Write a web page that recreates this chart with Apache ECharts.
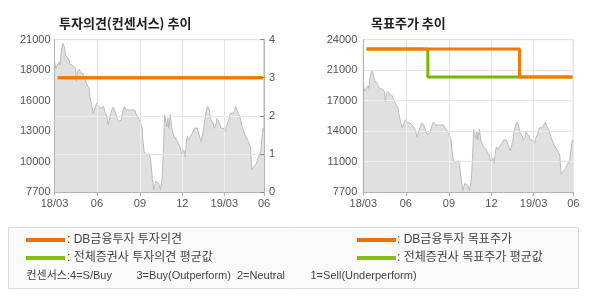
<!DOCTYPE html>
<html>
<head>
<meta charset="utf-8">
<script src="https://cdn.jsdelivr.net/npm/echarts@6/dist/echarts.min.js"></script>
<style>
html,body{margin:0;padding:0;background:#fff;}
#chart{width:590px;height:300px;}
</style>
</head>
<body>
<div id="chart"></div>
<script>
// ---- data ----
const priceDates = [
'2018-03-02','2018-03-05','2018-03-08','2018-03-12','2018-03-14','2018-03-16','2018-03-20','2018-03-22','2018-03-23','2018-03-26',
'2018-03-28','2018-04-02','2018-04-04','2018-04-09','2018-04-11','2018-04-16','2018-04-18','2018-04-20','2018-04-24','2018-04-27',
'2018-05-02','2018-05-04','2018-05-08','2018-05-11','2018-05-15','2018-05-17','2018-05-21','2018-05-24','2018-05-28','2018-05-29',
'2018-05-31','2018-06-04','2018-06-05','2018-06-08','2018-06-12','2018-06-15','2018-06-19','2018-06-22','2018-06-25','2018-06-27',
'2018-06-29','2018-07-03','2018-07-05','2018-07-09','2018-07-11','2018-07-13','2018-07-17','2018-07-20','2018-07-23','2018-07-26',
'2018-07-30','2018-08-01','2018-08-03','2018-08-06','2018-08-09','2018-08-13','2018-08-16','2018-08-17','2018-08-21','2018-08-23',
'2018-08-27','2018-08-29','2018-08-31','2018-09-03','2018-09-06','2018-09-07','2018-09-10','2018-09-13','2018-09-14','2018-09-18',
'2018-09-21','2018-09-24','2018-09-26','2018-09-28','2018-10-01','2018-10-03','2018-10-05','2018-10-08','2018-10-11','2018-10-15',
'2018-10-17','2018-10-19','2018-10-22','2018-10-24','2018-10-26','2018-10-29','2018-10-31','2018-11-02','2018-11-05','2018-11-08',
'2018-11-12','2018-11-14','2018-11-16','2018-11-19','2018-11-22','2018-11-26','2018-11-28','2018-11-30','2018-12-04','2018-12-07',
'2018-12-10','2018-12-12','2018-12-14','2018-12-18','2018-12-21','2018-12-24','2018-12-27','2018-12-28','2019-01-02','2019-01-04',
'2019-01-07','2019-01-10','2019-01-14','2019-01-16','2019-01-18','2019-01-21','2019-01-24','2019-01-28','2019-01-30','2019-02-01',
'2019-02-05','2019-02-07','2019-02-11','2019-02-13','2019-02-15','2019-02-19','2019-02-22','2019-02-25','2019-02-27','2019-03-04',
'2019-03-05','2019-03-08','2019-03-11','2019-03-14','2019-03-17','2019-03-20','2019-03-23','2019-03-26','2019-03-28','2019-03-31',
'2019-04-03','2019-04-06','2019-04-08','2019-04-11','2019-04-14','2019-04-17','2019-04-20','2019-04-23','2019-04-26','2019-04-29',
'2019-05-01','2019-05-03','2019-05-06','2019-05-09','2019-05-12','2019-05-15','2019-05-18','2019-05-20','2019-05-23','2019-05-25'
];
const prices = [
19070,18490,18780,19070,18780,19800,20670,20730,20380,19650,
19510,19220,18840,18780,18640,18490,17330,18200,18430,18110,
18060,17770,17620,17040,16750,16020,15150,14570,14710,15150,
15440,15150,15000,15200,15000,15200,14570,14270,13550,13630,
14270,14860,15090,14860,14710,14270,13840,13690,13980,14710,
15150,15000,14860,15000,14860,14710,14860,14710,14860,14570,
14330,14420,13980,13840,13260,12380,11220,11070,10930,10780,
11020,10550,9620,8750,7870,8310,8600,8600,8460,7870,
7870,9040,11950,14420,13980,13400,14120,13260,14420,13400,
12670,12530,12670,12240,11950,11660,11220,10930,11370,10780,
12240,12530,12240,12530,12380,12970,13260,13110,13260,12970,
12820,12090,12820,13260,13980,14710,15150,14860,14120,13980,
13690,13260,13550,14120,14270,13690,13260,13400,13260,12970,
13400,13690,14120,14570,14710,14570,14860,15150,14860,14570,
14270,13840,13400,13110,12670,12530,12240,11950,11660,9620,
9770,9910,9910,10200,10640,10930,11220,12240,13260,12970
];
const opinionDates = ['2018-03-09','2019-05-23'];
const opinionDB = [3, 3];
const opinionAvg = [3, 3];
const targetDBDates = ['2018-03-09','2019-01-30','2019-05-23'];
const targetDB = [23000, 20000, 20000];
const targetAvgDates = ['2018-03-09','2018-07-18','2019-05-23'];
const targetAvg = [23000, 20000, 20000];

const xTickDates = ['2018-03-02','2018-06-01','2018-09-01','2018-12-01','2019-03-01','2019-05-25'];
const xTickLabels = ['18/03','06','09','12','19/03','06'];
const priceTickValues1 = [7700, 10360, 13020, 15680, 18340, 21000];
const priceTickLabels1 = ['7700','10000','13000','16000','18000','21000'];
const opinionTicks = [0, 1, 2, 3, 4];
const priceTickValues2 = [7700, 10960, 14220, 17480, 20740, 24000];
const priceTickLabels2 = ['7700','11000','14000','17000','21000','24000'];

const titles = ['투자의견(컨센서스) 추이', '목표주가 추이'];
const legendLeft = [': DB금융투자 투자의견', ': 전체증권사 투자의견 평균값'];
const legendRight = [': DB금융투자 목표주가', ': 전체증권사 목표주가 평균값'];
const consensusNote = ['컨센서스:4=S/Buy', '3=Buy(Outperform)', '2=Neutral', '1=Sell(Underperform)'];

// ---- helpers ----
function t(s){ const p = s.split('-').map(Number); return Date.UTC(p[0], p[1]-1, p[2]); }
function zip(ds, vs){ return ds.map((d,i)=>[t(d), vs[i]]); }
const xTickTimes = xTickDates.map(t);
const xMin = xTickTimes[0], xMax = xTickTimes[xTickTimes.length-1];

const ORANGE = '#ff7700', GREEN = '#77b800';
const AXIS = '#b4b4b4', LABEL = '#555';
const GRID_OVER = 'rgba(255,255,255,0.45)';   // gridline drawn over the grey area
const GRID_UNDER = '#cfcfcf';                  // gridline drawn beneath the area
const NONE = 'rgba(0,0,0,0)';
const NUMFONT = '"Liberation Sans", Arial, sans-serif';
const KFONT = '"Noto Sans CJK KR", sans-serif';
const MIXFONT = '"Liberation Sans", "Noto Sans CJK KR", sans-serif';

function labelFromList(vals, labels){
  return function(v){
    let best = 0, bd = Infinity;
    vals.forEach((tt,i)=>{ const d = Math.abs(tt - v); if (d < bd){ bd = d; best = i; } });
    return labels[best];
  };
}
function xAxisDef(gridIndex){
  return {
    type: 'value', gridIndex, min: xMin, max: xMax, scale: true, z: 3,
    axisLine: {show: true, lineStyle: {color: AXIS}},
    axisTick: {show: true, length: 4, lineStyle: {color: AXIS}, customValues: xTickTimes},
    axisLabel: {
      customValues: xTickTimes, color: LABEL, fontSize: 11, fontFamily: NUMFONT, margin: 6,
      showMinLabel: true, showMaxLabel: true, hideOverlap: false,
      formatter: labelFromList(xTickTimes, xTickLabels)
    },
    splitLine: {show: true, lineStyle: {color: GRID_OVER}}
  };
}
function xAxisUnder(gridIndex){
  return {
    type: 'value', gridIndex, min: xMin, max: xMax, scale: true, z: 0,
    axisLine: {show: false},
    axisTick: {show: true, lineStyle: {color: NONE}, customValues: xTickTimes},
    axisLabel: {customValues: xTickTimes, color: NONE, formatter: () => ''},
    splitLine: {show: true, lineStyle: {color: GRID_UNDER}}
  };
}

const priceArea = {
  type: 'line', symbol: 'none', silent: true,
  lineStyle: {color: '#bbbbbb', width: 1},
  areaStyle: {color: '#e0e0e0', opacity: 1, origin: 'start'},
  z: 1
};

const titleStyle = {fontSize: 13, fontWeight: 'bold', color: '#222', fontFamily: KFONT};

const option = {
  animation: false,
  backgroundColor: '#fff',
  title: [
    {text: titles[0], left: 54, top: 12, textStyle: titleStyle},
    {text: titles[1], left: 366, top: 12, textStyle: titleStyle}
  ],
  grid: [
    {left: 54.5, top: 39.6, width: 209.5, height: 152.4, show: true, borderColor: AXIS, borderWidth: 1, backgroundColor: 'transparent'},
    {left: 363.3, top: 39.6, width: 210, height: 152.4, show: true, borderColor: AXIS, borderWidth: 1, backgroundColor: 'transparent'}
  ],
  xAxis: [xAxisDef(0), xAxisDef(1), xAxisUnder(0), xAxisUnder(1)],
  yAxis: [
    {
      type: 'value', gridIndex: 0, position: 'left', min: priceTickValues1[0], max: priceTickValues1[5], z: 3,
      axisLine: {show: true, lineStyle: {color: AXIS}},
      axisTick: {show: false, customValues: priceTickValues1},
      axisLabel: {customValues: priceTickValues1, color: LABEL, fontSize: 11, fontFamily: NUMFONT, margin: 4,
        formatter: labelFromList(priceTickValues1, priceTickLabels1)},
      splitLine: {show: false}
    },
    {
      type: 'value', gridIndex: 0, position: 'right', min: opinionTicks[0], max: opinionTicks[4], interval: 1, z: 3,
      axisLine: {show: true, lineStyle: {color: AXIS}},
      axisTick: {show: true, inside: true, length: 4, lineStyle: {color: '#888'}},
      axisLabel: {color: LABEL, fontSize: 11, fontFamily: NUMFONT, margin: 5},
      splitLine: {show: true, lineStyle: {color: GRID_OVER}}
    },
    {
      type: 'value', gridIndex: 1, position: 'left', min: priceTickValues2[0], max: priceTickValues2[5], z: 3,
      axisLine: {show: true, lineStyle: {color: AXIS}},
      axisTick: {show: false, customValues: priceTickValues2},
      axisLabel: {customValues: priceTickValues2, color: LABEL, fontSize: 11, fontFamily: NUMFONT, margin: 6,
        formatter: labelFromList(priceTickValues2, priceTickLabels2)},
      splitLine: {show: true, lineStyle: {color: GRID_OVER}}
    },
    {
      type: 'value', gridIndex: 0, position: 'right', min: opinionTicks[0], max: opinionTicks[4], interval: 1, z: 0,
      axisLine: {show: false}, axisTick: {show: false}, axisLabel: {show: false},
      splitLine: {show: true, lineStyle: {color: GRID_UNDER}}
    },
    {
      type: 'value', gridIndex: 1, position: 'left', min: priceTickValues2[0], max: priceTickValues2[5], z: 0,
      axisLine: {show: false},
      axisTick: {show: true, lineStyle: {color: NONE}, customValues: priceTickValues2},
      axisLabel: {customValues: priceTickValues2, color: NONE, formatter: () => ''},
      splitLine: {show: true, lineStyle: {color: GRID_UNDER}}
    }
  ],
  series: [
    Object.assign({}, priceArea, {xAxisIndex: 0, yAxisIndex: 0, data: zip(priceDates, prices)}),
    {type: 'line', xAxisIndex: 0, yAxisIndex: 1, symbol: 'none', silent: true, z: 6,
      lineStyle: {color: GREEN, width: 3}, data: zip(opinionDates, opinionAvg)},
    {type: 'line', xAxisIndex: 0, yAxisIndex: 1, symbol: 'none', silent: true, z: 7,
      lineStyle: {color: ORANGE, width: 3}, data: zip(opinionDates, opinionDB)},
    Object.assign({}, priceArea, {xAxisIndex: 1, yAxisIndex: 2, data: zip(priceDates, prices)}),
    {type: 'line', xAxisIndex: 1, yAxisIndex: 2, symbol: 'none', silent: true, step: 'end', z: 6,
      lineStyle: {color: GREEN, width: 3}, data: zip(targetAvgDates, targetAvg)},
    {type: 'line', xAxisIndex: 1, yAxisIndex: 2, symbol: 'none', silent: true, step: 'end', z: 7,
      lineStyle: {color: ORANGE, width: 3}, data: zip(targetDBDates, targetDB)}
  ],
  graphic: [
    {type: 'rect', shape: {x: 8.5, y: 227.5, width: 570, height: 61}, style: {fill: '#fafafa', stroke: '#dddddd', lineWidth: 1}, z: 0},
    {type: 'line', shape: {x1: 26, y1: 240, x2: 65, y2: 240}, style: {stroke: '#ec7010', lineWidth: 4}},
    {type: 'line', shape: {x1: 26, y1: 258, x2: 65, y2: 258}, style: {stroke: '#84c010', lineWidth: 4}},
    {type: 'line', shape: {x1: 357, y1: 240, x2: 396, y2: 240}, style: {stroke: '#ec7010', lineWidth: 4}},
    {type: 'line', shape: {x1: 357, y1: 258, x2: 396, y2: 258}, style: {stroke: '#84c010', lineWidth: 4}},
    {type: 'text', x: 67, y: 240, style: {text: legendLeft[0], fill: '#444', font: '12px ' + MIXFONT, textVerticalAlign: 'middle'}},
    {type: 'text', x: 67, y: 258, style: {text: legendLeft[1], fill: '#444', font: '12px ' + MIXFONT, textVerticalAlign: 'middle'}},
    {type: 'text', x: 397, y: 240, style: {text: legendRight[0], fill: '#444', font: '12px ' + MIXFONT, textVerticalAlign: 'middle'}},
    {type: 'text', x: 397, y: 258, style: {text: legendRight[1], fill: '#444', font: '12px ' + MIXFONT, textVerticalAlign: 'middle'}},
    {type: 'text', x: 26.5, y: 276, style: {text: consensusNote[0], fill: '#444', font: '11px ' + MIXFONT, textVerticalAlign: 'middle'}},
    {type: 'text', x: 136.5, y: 276, style: {text: consensusNote[1], fill: '#444', font: '11px ' + MIXFONT, textVerticalAlign: 'middle'}},
    {type: 'text', x: 237, y: 276, style: {text: consensusNote[2], fill: '#444', font: '11px ' + MIXFONT, textVerticalAlign: 'middle'}},
    {type: 'text', x: 310.5, y: 276, style: {text: consensusNote[3], fill: '#444', font: '11px ' + MIXFONT, textVerticalAlign: 'middle'}}
  ]
};

const chart = echarts.init(document.getElementById('chart'), null, {renderer: 'canvas'});
chart.setOption(option);
</script>
</body>
</html>
